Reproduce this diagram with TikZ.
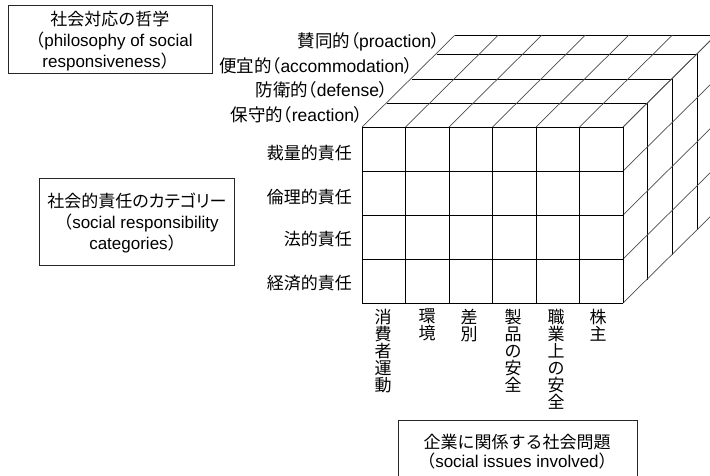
\documentclass[tikz,border=0pt]{standalone}
\usepackage{fontspec}
\setmainfont{Liberation Sans}
\newfontfamily\jp{Noto Sans CJK JP}
\newfontfamily\jpp[RawFeature=+palt]{Noto Sans CJK JP}
\begin{document}
\begin{tikzpicture}[x=1pt,y=-1pt,
  every node/.style={font=\fontsize{17}{21}\selectfont, inner sep=0pt, text=black},
  gridline/.style={line width=0.9pt, black},
  diagline/.style={line width=0.7pt, black!70},
  labelbox/.style={draw=black!85, line width=0.9pt},
  coltext/.style={anchor=north, align=center, font=\jp\fontsize{17}{17}\selectfont},
  rowtext/.style={anchor=east, font=\jp\fontsize{17}{21}\selectfont},
  layertext/.style={anchor=east, font=\fontsize{17.5}{21}\selectfont}]
\useasboundingbox (0,0) rectangle (710,475);
\clip (0,0) rectangle (710,475);

% ---- top face
\foreach \dx/\dy in {0/0, 24.5/23.5, 49.5/48, 74.5/73, 93/92}
  \draw[gridline] (362+\dx,127-\dy) -- (623+\dx,127-\dy);
\foreach \i in {0,...,6}
  \draw[diagline] (362+\i*43.5,127) -- ++(93,-92);
% ---- right face
\foreach \dx/\dy in {24.5/23.5, 49.5/48, 74.5/73, 93/92}
  \draw[gridline] (623+\dx,127-\dy) -- (623+\dx,303-\dy);
\foreach \j in {0,...,4}
  \draw[diagline] (623,127+\j*44) -- ++(93,-92);
% ---- front face
\foreach \i in {0,...,6}
  \draw[gridline] (362+\i*43.5,127) -- (362+\i*43.5,303);
\foreach \j in {0,...,4}
  \draw[gridline] (362,127+\j*44) -- (623,127+\j*44);

% ---- layer labels
\node[layertext] (l1) at (363,115) {{\jpp 保守的（}reaction{\jpp ）}};
\node[layertext] (l2) at (388,90) {{\jpp 防衛的（}defense{\jpp ）}};
\node[layertext] (l3) at (413,66) {{\jpp 便宜的（}accommodation{\jpp ）}};
\node[layertext] (l4) at (440,42) {{\jpp 賛同的（}proaction{\jpp ）}};

% ---- row labels
\node[rowtext] (r1) at (352,153) {裁量的責任};
\node[rowtext] (r2) at (352,197) {倫理的責任};
\node[rowtext] (r3) at (352,239) {法的責任};
\node[rowtext] (r4) at (352,283) {経済的責任};

% ---- column labels
\node[coltext] (c1) at (383,309) {消\\費\\者\\運\\動};
\node[coltext] (c2) at (427,309) {環\\境};
\node[coltext] (c3) at (469,309) {差\\別};
\node[coltext] (c4) at (513,309) {製\\品\\の\\安\\全};
\node[coltext] (c5) at (556,309) {職\\業\\上\\の\\安\\全};
\node[coltext] (c6) at (598,309) {株\\主};

% ---- boxes
\draw[labelbox] (8,5) rectangle (212,73);
\node[align=center] (b1) at (110,41.5) {{\jp 社会対応の哲学}\\{\jp （}philosophy of social\\responsiveness{\jp ）}};
\draw[labelbox] (39,178) rectangle (234,265);
\node[align=center] (b2) at (137,223) {{\jpp 社会的責任のカテゴリー}\\{\jp （}social responsibility\\categories{\jp ）}};
\draw[labelbox] (398,420) rectangle (637,490);
\node[align=center, font=\fontsize{17}{19}\selectfont] (b3) at (517,451.5) {{\jp 企業に関係する社会問題}\\{\jp （}social issues involved{\jp ）}};
\end{tikzpicture}
\end{document}
